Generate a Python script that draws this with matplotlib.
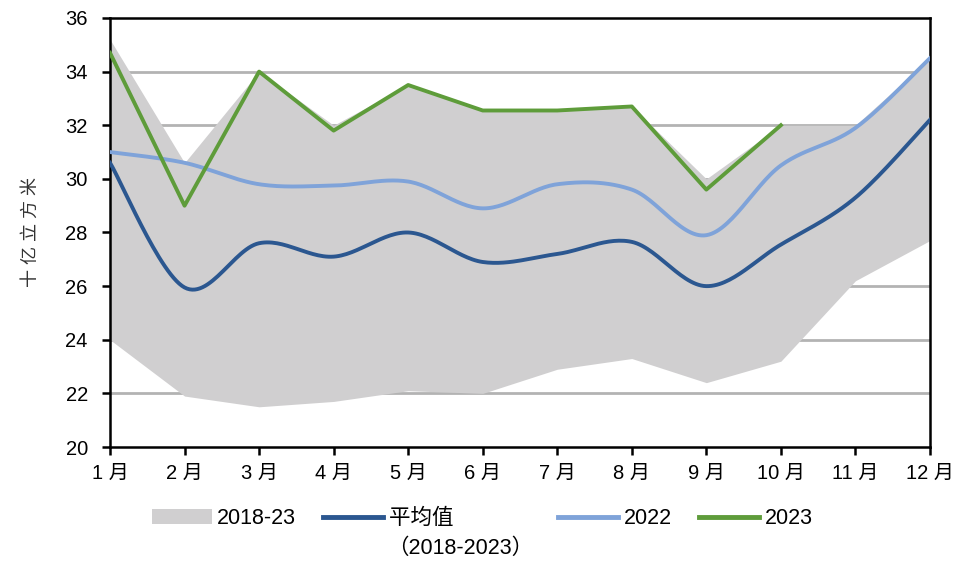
import numpy as np
import matplotlib
matplotlib.use('Agg')
import matplotlib.pyplot as plt
from matplotlib.patches import Patch
from matplotlib.lines import Line2D

plt.rcParams['font.family'] = ['Liberation Sans', 'Noto Sans CJK SC']

months = [f'{m} 月' for m in range(1, 13)]
band_high = [35.2, 30.6, 34.0, 32.0, 33.5, 32.6, 32.6, 32.7, 30.0, 32.0, 32.0, 34.5]
band_low = [24.0, 21.9, 21.5, 21.7, 22.1, 22.0, 22.9, 23.3, 22.4, 23.2, 26.2, 27.7]
avg_1823 = [30.6, 25.95, 27.6, 27.1, 28.0, 26.9, 27.2, 27.65, 26.0, 27.55, 29.3, 32.2]
y2022 = [31.0, 30.6, 29.8, 29.75, 29.9, 28.9, 29.8, 29.6, 27.9, 30.5, 31.9, 34.5]
y2023 = [34.7, 29.0, 34.0, 31.8, 33.5, 32.55, 32.55, 32.7, 29.6, 32.0]


def smooth(x, y, n=30):
    # Catmull-Rom style smoothing like Excel's "smoothed line"
    x = np.asarray(x, float)
    y = np.asarray(y, float)
    px = np.concatenate([[x[0]], x, [x[-1]]])
    py = np.concatenate([[y[0]], y, [y[-1]]])
    xs, ys = [], []
    t = np.linspace(0, 1, n)
    for i in range(1, len(px) - 2):
        p0 = np.array([px[i], py[i]])
        p3 = np.array([px[i + 1], py[i + 1]])
        c1 = p0 + (np.array([px[i + 1], py[i + 1]]) - np.array([px[i - 1], py[i - 1]])) / 6
        c2 = p3 - (np.array([px[i + 2], py[i + 2]]) - np.array([px[i], py[i]])) / 6
        b = ((1 - t) ** 3)[:, None] * p0 + (3 * (1 - t) ** 2 * t)[:, None] * c1 \
            + (3 * (1 - t) * t ** 2)[:, None] * c2 + (t ** 3)[:, None] * p3
        xs.extend(b[:, 0])
        ys.extend(b[:, 1])
    return np.array(xs), np.array(ys)


x = np.arange(12)
fig = plt.figure(figsize=(9.65, 5.62), dpi=100)
ax = fig.add_axes([0.114, 0.2046, 0.8497, 0.7634])

ax.fill_between(x, band_low, band_high, color='#d0cfd0', lw=0, zorder=1)
for yv in range(22, 36, 2):
    ax.axhline(yv, color='#b3b3b3', lw=2, zorder=0.5)

dark = '#2b5790'
light = '#7fa3d9'
green = '#5e9c3a'
sx, sy = smooth(x, avg_1823)
ax.plot(sx, sy, color=dark, lw=2.8, zorder=3)
sx, sy = smooth(x, y2022)
ax.plot(sx, sy, color=light, lw=2.8, zorder=3)
ax.plot(np.arange(len(y2023)), y2023, color=green, lw=2.8, zorder=4)

ax.set_xlim(0, 11)
ax.set_ylim(20, 36)
ax.set_yticks(range(20, 37, 2))
ax.set_xticks(x)
ax.set_xticklabels(months)
for s in ax.spines.values():
    s.set_linewidth(1.8)
    s.set_color('black')
ax.tick_params(axis='both', direction='out', length=6, width=1.8, labelsize=14.5, colors='black')
ax.tick_params(axis='y', pad=10)
ax.tick_params(axis='x', pad=6)
ax.set_ylabel('十 亿 立 方 米', fontsize=13, color='#333333', labelpad=18)

handles = [Patch(facecolor='#d0cfd0', edgecolor='none'),
           Line2D([], [], color=dark, lw=3.5),
           Line2D([], [], color=light, lw=3.5),
           Line2D([], [], color=green, lw=3.5)]
labels = ['2018-23', '平均值' + ' ' * 13, '2022', '2023']
fig.legend(handles, labels, loc='center left', bbox_to_anchor=(0.157, 0.077), ncol=4,
           frameon=False, fontsize=15.5, handlelength=2.8, handletextpad=0.25,
           columnspacing=1.25, borderpad=0, borderaxespad=0)
fig.text(0.477, 0.024, '（2018-2023）', fontsize=15.5, ha='center', va='center')

fig.savefig('out.png', dpi=100)
